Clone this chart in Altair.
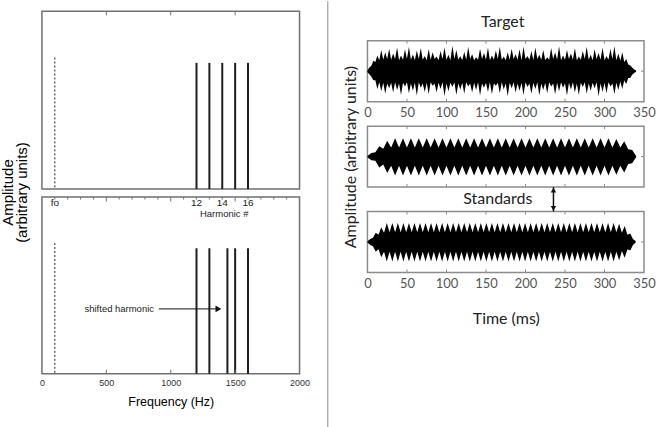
import altair as alt
import pandas as pd

# ---------------- spectra (left column) ----------------
fo_freq = [100]
fo_amp = [0.74]
standard_freqs = [1200, 1300, 1400, 1500, 1600]
standard_amps = [0.71, 0.71, 0.71, 0.71, 0.71]
shifted_freqs = [1200, 1300, 1440, 1500, 1600]
shifted_amps = [0.71, 0.71, 0.71, 0.71, 0.71]
harmonic_label_freqs = [100, 1200, 1400, 1600]
harmonic_labels = ["fo", "12", "14", "16"]
freq_label_values = [0, 500, 1000, 1500, 2000]
freq_major_ticks = [500, 1000, 1500]
freq_minor_ticks = [100, 200, 300, 400, 600, 700, 800, 900, 1100, 1200,
                    1300, 1400, 1600, 1700, 1800, 1900]

# ---------------- waveforms (right column) ----------------
time_label_values = [0, 50, 100, 150, 200, 250, 300, 350]
time_ticks = [50, 100, 150, 200, 250, 300]

target_t = [0, 2.5, 5, 7.5, 10, 12.5, 15, 17.5, 20, 22.5,
            25, 27.5, 30, 32.5, 35, 37.5, 40, 42.5, 45, 47.5,
            50, 52.5, 55, 57.5, 60, 62.5, 65, 67.5, 70, 72.5,
            75, 77.5, 80, 82.5, 85, 87.5, 90, 92.5, 95, 97.5,
            100, 102.5, 105, 107.5, 110, 112.5, 115, 117.5, 120, 122.5,
            125, 127.5, 130, 132.5, 135, 137.5, 140, 142.5, 145, 147.5,
            150, 152.5, 155, 157.5, 160, 162.5, 165, 167.5, 170, 172.5,
            175, 177.5, 180, 182.5, 185, 187.5, 190, 192.5, 195, 197.5,
            200, 202.5, 205, 207.5, 210, 212.5, 215, 217.5, 220, 222.5,
            225, 227.5, 230, 232.5, 235, 237.5, 240, 242.5, 245, 247.5,
            250, 252.5, 255, 257.5, 260, 262.5, 265, 267.5, 270, 272.5,
            275, 277.5, 280, 282.5, 285, 287.5, 290, 292.5, 295, 297.5,
            300, 302.5, 305, 307.5, 310, 312.5, 315, 317.5, 320, 322.5,
            325, 327.5, 330, 332.5, 335, 337.5, 340]
target_hi = [0.03, 0.12, 0.18, 0.34, 0.30, 0.52, 0.36, 0.70, 0.38, 0.62,
             0.40, 0.74, 0.38, 0.58, 0.40, 0.78, 0.36, 0.52, 0.38, 0.72,
             0.40, 0.80, 0.38, 0.55, 0.36, 0.68, 0.40, 0.76, 0.38, 0.50,
             0.36, 0.72, 0.38, 0.62, 0.40, 0.48, 0.36, 0.66, 0.40, 0.78,
             0.38, 0.54, 0.36, 0.84, 0.40, 0.70, 0.38, 0.50, 0.36, 0.64,
             0.38, 0.80, 0.40, 0.56, 0.36, 0.46, 0.38, 0.74, 0.40, 0.60,
             0.38, 0.78, 0.36, 0.52, 0.38, 0.68, 0.40, 0.80, 0.38, 0.48,
             0.36, 0.62, 0.38, 0.74, 0.40, 0.56, 0.38, 0.72, 0.36, 0.80,
             0.40, 0.50, 0.38, 0.66, 0.36, 0.78, 0.40, 0.54, 0.38, 0.70,
             0.36, 0.46, 0.38, 0.76, 0.40, 0.62, 0.38, 0.82, 0.36, 0.52,
             0.38, 0.70, 0.40, 0.58, 0.38, 0.76, 0.36, 0.48, 0.38, 0.66,
             0.40, 0.80, 0.38, 0.54, 0.36, 0.72, 0.40, 0.60, 0.38, 0.78,
             0.36, 0.50, 0.38, 0.74, 0.40, 0.82, 0.36, 0.58, 0.34, 0.62,
             0.30, 0.40, 0.22, 0.20, 0.12, 0.06, 0.02]
target_lo = [-0.03, -0.10, -0.18, -0.30, -0.30, -0.58, -0.36, -0.66, -0.38, -0.74,
             -0.40, -0.56, -0.38, -0.70, -0.36, -0.62, -0.40, -0.78, -0.38, -0.50,
             -0.36, -0.72, -0.40, -0.64, -0.38, -0.80, -0.36, -0.54, -0.40, -0.68,
             -0.38, -0.76, -0.36, -0.48, -0.40, -0.70, -0.38, -0.58, -0.36, -0.82,
             -0.40, -0.66, -0.38, -0.52, -0.36, -0.78, -0.40, -0.60, -0.38, -0.74,
             -0.36, -0.50, -0.40, -0.70, -0.38, -0.62, -0.36, -0.80, -0.40, -0.54,
             -0.38, -0.68, -0.36, -0.76, -0.40, -0.48, -0.38, -0.72, -0.36, -0.60,
             -0.40, -0.82, -0.38, -0.56, -0.36, -0.70, -0.40, -0.64, -0.38, -0.78,
             -0.36, -0.52, -0.40, -0.74, -0.38, -0.58, -0.36, -0.80, -0.40, -0.62,
             -0.38, -0.72, -0.36, -0.50, -0.40, -0.76, -0.38, -0.66, -0.36, -0.54,
             -0.40, -0.80, -0.38, -0.60, -0.36, -0.70, -0.40, -0.78, -0.38, -0.52,
             -0.36, -0.74, -0.40, -0.64, -0.38, -0.56, -0.36, -0.82, -0.40, -0.68,
             -0.38, -0.72, -0.36, -0.50, -0.40, -0.76, -0.38, -0.62, -0.34, -0.58,
             -0.30, -0.42, -0.22, -0.22, -0.12, -0.06, -0.02]

std1_t = [0, 5, 10, 15, 20, 25, 30, 35, 40, 45, 50, 55, 60, 65, 70, 75, 80,
          85, 90, 95, 100, 105, 110, 115, 120, 125, 130, 135, 140, 145, 150,
          155, 160, 165, 170, 175, 180, 185, 190, 195, 200, 205, 210, 215,
          220, 225, 230, 235, 240, 245, 250, 255, 260, 265, 270, 275, 280,
          285, 290, 295, 300, 305, 310, 315, 320, 325, 330, 335, 340]
std1_hi = [0.02, 0.12, 0.14, 0.34, 0.26, 0.52, 0.30,
           0.60, 0.30, 0.60, 0.30, 0.60, 0.30, 0.60, 0.30, 0.60, 0.30,
           0.60, 0.30, 0.60, 0.30, 0.60, 0.30, 0.60, 0.30, 0.60, 0.30,
           0.60, 0.30, 0.60, 0.30, 0.60, 0.30, 0.60, 0.30, 0.60, 0.30,
           0.60, 0.30, 0.60, 0.30, 0.60, 0.30, 0.60, 0.30, 0.60, 0.30,
           0.60, 0.30, 0.60, 0.30, 0.60, 0.30, 0.60, 0.30, 0.60, 0.30,
           0.60, 0.30, 0.60, 0.30, 0.60, 0.30,
           0.58, 0.30, 0.50, 0.24, 0.22, 0.02]
std1_lo = [-0.02, -0.12, -0.14, -0.36, -0.26, -0.54, -0.30,
           -0.62, -0.30, -0.62, -0.30, -0.62, -0.30, -0.62, -0.30, -0.62, -0.30,
           -0.62, -0.30, -0.62, -0.30, -0.62, -0.30, -0.62, -0.30, -0.62, -0.30,
           -0.62, -0.30, -0.62, -0.30, -0.62, -0.30, -0.62, -0.30, -0.62, -0.30,
           -0.62, -0.30, -0.62, -0.30, -0.62, -0.30, -0.62, -0.30, -0.62, -0.30,
           -0.62, -0.30, -0.62, -0.30, -0.62, -0.30, -0.62, -0.30, -0.62, -0.30,
           -0.62, -0.30, -0.62, -0.30, -0.62, -0.30,
           -0.60, -0.30, -0.52, -0.24, -0.22, -0.02]

std2_t = [0, 3.5, 7, 10.5, 14, 17.5, 21, 24.5, 28, 31.5,
          35, 38.5, 42, 45.5, 49, 52.5, 56, 59.5, 63, 66.5,
          70, 73.5, 77, 80.5, 84, 87.5, 91, 94.5, 98, 101.5,
          105, 108.5, 112, 115.5, 119, 122.5, 126, 129.5, 133, 136.5,
          140, 143.5, 147, 150.5, 154, 157.5, 161, 164.5, 168, 171.5,
          175, 178.5, 182, 185.5, 189, 192.5, 196, 199.5, 203, 206.5,
          210, 213.5, 217, 220.5, 224, 227.5, 231, 234.5, 238, 241.5,
          245, 248.5, 252, 255.5, 259, 262.5, 266, 269.5, 273, 276.5,
          280, 283.5, 287, 290.5, 294, 297.5, 301, 304.5, 308, 311.5,
          315, 318.5, 322, 325.5, 329, 332.5, 336, 339.5]
std2_hi = [0.02, 0.10, 0.14, 0.30, 0.24, 0.48, 0.30,
           0.62, 0.32, 0.62, 0.32, 0.62, 0.32, 0.62, 0.32, 0.62, 0.32,
           0.62, 0.32, 0.62, 0.32, 0.62, 0.32, 0.62, 0.32, 0.62, 0.32,
           0.62, 0.32, 0.62, 0.32, 0.62, 0.32, 0.62, 0.32, 0.62, 0.32,
           0.62, 0.32, 0.62, 0.32, 0.62, 0.32, 0.62, 0.32, 0.62, 0.32,
           0.62, 0.32, 0.62, 0.32, 0.62, 0.32, 0.62, 0.32, 0.62, 0.32,
           0.62, 0.32, 0.62, 0.32, 0.62, 0.32, 0.62, 0.32, 0.62, 0.32,
           0.62, 0.32, 0.62, 0.32, 0.62, 0.32, 0.62, 0.32, 0.62, 0.32,
           0.62, 0.32, 0.62, 0.32, 0.62, 0.32, 0.62, 0.32, 0.62, 0.32,
           0.62, 0.32, 0.62,
           0.32, 0.60, 0.30, 0.52, 0.24, 0.28, 0.10, 0.02]
std2_lo = [-0.02, -0.10, -0.14, -0.32, -0.24, -0.50, -0.32,
           -0.64, -0.32, -0.64, -0.32, -0.64, -0.32, -0.64, -0.32, -0.64, -0.32,
           -0.64, -0.32, -0.64, -0.32, -0.64, -0.32, -0.64, -0.32, -0.64, -0.32,
           -0.64, -0.32, -0.64, -0.32, -0.64, -0.32, -0.64, -0.32, -0.64, -0.32,
           -0.64, -0.32, -0.64, -0.32, -0.64, -0.32, -0.64, -0.32, -0.64, -0.32,
           -0.64, -0.32, -0.64, -0.32, -0.64, -0.32, -0.64, -0.32, -0.64, -0.32,
           -0.64, -0.32, -0.64, -0.32, -0.64, -0.32, -0.64, -0.32, -0.64, -0.32,
           -0.64, -0.32, -0.64, -0.32, -0.64, -0.32, -0.64, -0.32, -0.64, -0.32,
           -0.64, -0.32, -0.64, -0.32, -0.64, -0.32, -0.64, -0.32, -0.64, -0.32,
           -0.64, -0.32, -0.64,
           -0.32, -0.60, -0.30, -0.52, -0.24, -0.28, -0.10, -0.02]

# annotation anchors (data coordinates of the panel they sit in)
shift_text_f, shift_start_f, shift_head_f, shift_amp = 870, 908, 1370, 0.367
harm_label_amp, harm_title_amp, harm_title_f = 0.966, 0.904, 1415
standards_t, standards_amp = 165, 1.41
swap_t, swap_lo, swap_hi = 235.4, 1.0, 1.80

# ---------------- styling ----------------
LEFT_FONT = "Liberation Sans"
RIGHT_FONT = "Lato"
W_L, H_L1, H_L2 = 258, 178, 177
W_R, H_R = 277, 61
FRAME_L = "#707070"
FRAME_R = "#8c8c8c"

f_scale = alt.Scale(domain=[0, 2000], nice=False, zero=False)
amp_scale = alt.Scale(domain=[0, 1], nice=False, zero=False)
t_scale = alt.Scale(domain=[0, 350], nice=False, zero=False)
wave_scale = alt.Scale(domain=[-1, 1], nice=False, zero=False)

# an axis that draws nothing; every layer of a panel shares the same axis spec
HIDDEN = dict(labels=False, ticks=False, domain=False, grid=False, title=None)

one_row = pd.DataFrame({"k": [0]})


def edge_ticks(values, length, top, height, color, x_axis):
    df = pd.DataFrame({"v": values})
    y0, y1 = (0, length) if top else (height, height - length)
    return alt.Chart(df).mark_rule(color=color, strokeWidth=1).encode(
        x=alt.X("v:Q", axis=x_axis), y=alt.value(y0), y2=alt.value(y1)
    )


def spectrum_panel(freqs, amps, height, x_axis, y_axis, extras):
    fo_df = pd.DataFrame({"f": fo_freq, "a": fo_amp, "b": [0] * len(fo_freq)})
    h_df = pd.DataFrame({"f": freqs, "a": amps, "b": [0] * len(freqs)})
    fo = alt.Chart(fo_df).mark_rule(color="#222", strokeWidth=1, strokeDash=[2, 2]).encode(
        x=alt.X("f:Q", scale=f_scale, axis=x_axis),
        y=alt.Y("a:Q", scale=amp_scale, axis=y_axis),
        y2="b:Q",
    )
    harm = alt.Chart(h_df).mark_rule(color="#1e1e1e", strokeWidth=2).encode(
        x=alt.X("f:Q", axis=x_axis), y=alt.Y("a:Q", axis=y_axis), y2="b:Q"
    )
    return alt.layer(fo, harm, *extras).properties(
        width=W_L, height=height,
        view=alt.ViewBackground(stroke=FRAME_L, strokeWidth=1.5),
    )


def text_layer(df, x_axis, y_axis, **mark_kw):
    return alt.Chart(df).mark_text(**mark_kw).encode(
        x=alt.X("f:Q", axis=x_axis), y=alt.Y("a:Q", axis=y_axis), text="txt:N"
    )


# top spectrum: harmonic complex 12-16
top_x = alt.Axis(**HIDDEN)
top_y = alt.Axis(
    title=["Amplitude", "(arbitrary units)"], labels=False, ticks=False, domain=False,
    grid=False, titleFont=LEFT_FONT, titleFontSize=15, titleFontWeight="normal",
    titleColor="black", titlePadding=12, titleY=181, titleLineHeight=14,
)
top_spec = spectrum_panel(
    standard_freqs, standard_amps, H_L1, top_x, top_y,
    [edge_ticks(freq_major_ticks, 4, True, H_L1, FRAME_L, top_x)],
)

# bottom spectrum: 14th harmonic shifted up
bot_x = alt.Axis(
    values=freq_label_values, format="d", ticks=False, domain=False, grid=False,
    labelFlush=False, labelFont=LEFT_FONT, labelFontSize=9, labelColor="#333",
    labelPadding=5, title="Frequency (Hz)", titleFont=LEFT_FONT, titleFontSize=12.5,
    titleFontWeight="normal", titleColor="black", titlePadding=8,
)
bot_y = alt.Axis(**HIDDEN)
lab_df = pd.DataFrame({"f": harmonic_label_freqs, "txt": harmonic_labels,
                       "a": [harm_label_amp] * len(harmonic_labels)})
harm_text = text_layer(lab_df, bot_x, bot_y, font=LEFT_FONT, fontSize=10,
                       color="#222", baseline="middle")
harm_title = text_layer(
    pd.DataFrame({"f": [harm_title_f], "a": [harm_title_amp], "txt": ["Harmonic #"]}),
    bot_x, bot_y, font=LEFT_FONT, fontSize=9.5, color="#222", baseline="middle")
shift_text = text_layer(
    pd.DataFrame({"f": [shift_text_f], "a": [shift_amp], "txt": ["shifted harmonic"]}),
    bot_x, bot_y, font=LEFT_FONT, fontSize=9.5, color="#222", align="right",
    baseline="middle")
shift_line = alt.Chart(pd.DataFrame({"f": [shift_start_f], "f2": [shift_head_f],
                                     "a": [shift_amp]})).mark_rule(
    color="#111", strokeWidth=1).encode(
    x=alt.X("f:Q", axis=bot_x), x2="f2:Q", y=alt.Y("a:Q", axis=bot_y)
)
shift_head = alt.Chart(pd.DataFrame({"f": [shift_head_f], "a": [shift_amp]})).mark_point(
    shape="triangle-right", size=45, filled=True, color="#111", opacity=1).encode(
    x=alt.X("f:Q", axis=bot_x), y=alt.Y("a:Q", axis=bot_y)
)
bottom_spec = spectrum_panel(
    shifted_freqs, shifted_amps, H_L2, bot_x, bot_y,
    [edge_ticks(freq_minor_ticks, 2.5, True, H_L2, FRAME_L, bot_x),
     edge_ticks(freq_major_ticks, 4.5, True, H_L2, FRAME_L, bot_x),
     edge_ticks(freq_major_ticks, 4, False, H_L2, FRAME_L, bot_x),
     harm_text, harm_title, shift_text, shift_line, shift_head],
)

left_col = alt.vconcat(top_spec, bottom_spec, spacing=8, bounds="flush")


# ---------------- waveform panels ----------------
def waveform_panel(t, hi, lo, x_axis, y_axis, title=None, extras=()):
    df = pd.DataFrame({"t": t, "hi": hi, "lo": lo})
    wave = alt.Chart(df).mark_area(color="black", interpolate="linear").encode(
        x=alt.X("t:Q", scale=t_scale, axis=x_axis),
        y=alt.Y("hi:Q", scale=wave_scale, axis=y_axis),
        y2="lo:Q",
    )
    side = alt.Chart(pd.DataFrame({"a": [0]})).mark_rule(color=FRAME_R).encode(
        x=alt.value(W_R - 3), x2=alt.value(W_R), y=alt.Y("a:Q", axis=y_axis)
    )
    layers = [wave,
              edge_ticks(time_ticks, 3, True, H_R, FRAME_R, x_axis),
              edge_ticks(time_ticks, 3, False, H_R, FRAME_R, x_axis),
              side, *extras]
    ch = alt.layer(*layers).properties(
        width=W_R, height=H_R,
        view=alt.ViewBackground(stroke=FRAME_R, strokeWidth=1.5),
    )
    if title is not None:
        ch = ch.properties(title=title)
    return ch


def time_axis(with_title):
    kw = dict(values=time_label_values, ticks=False, domain=False, grid=False,
              labelFlush=False, labelFont=RIGHT_FONT, labelFontSize=13,
              labelColor="#555", labelPadding=5)
    if with_title:
        kw.update(title="Time (ms)", titleFont=RIGHT_FONT, titleFontSize=16,
                  titleFontWeight="normal", titleColor="#222", titlePadding=20)
    else:
        kw.update(title=None)
    return alt.Axis(**kw)


# thin strip above the waveforms that carries the vertical separator line
divider_strip = alt.Chart(one_row).mark_rule(color="#8a8a8a", strokeWidth=1).encode(
    x=alt.value(-39.7), y=alt.value(-10.2), y2=alt.value(420)
).properties(width=W_R, height=4.1,
             view=alt.ViewBackground(stroke="transparent", strokeWidth=0))

hid_y = alt.Axis(**HIDDEN)
hid_x = alt.Axis(**HIDDEN)

p_target = waveform_panel(
    target_t, target_hi, target_lo, time_axis(False), hid_y,
    title=alt.TitleParams("Target", font=RIGHT_FONT, fontSize=16, fontWeight="normal",
                          color="#222", offset=10, anchor="middle", frame="group", dx=-3),
)

amp_axis = alt.Axis(
    title="Amplitude (arbitrary units)", labels=False, ticks=False, domain=False, grid=False,
    titleFont=RIGHT_FONT, titleFontSize=16, titleFontWeight="normal", titleColor="#222",
    titlePadding=9,
)
p_std1 = waveform_panel(std1_t, std1_hi, std1_lo, hid_x, amp_axis)

x3 = time_axis(True)
standards_text = alt.Chart(pd.DataFrame({"t": [standards_t], "a": [standards_amp],
                                         "txt": ["Standards"]})).mark_text(
    font=RIGHT_FONT, fontSize=16, color="#222", baseline="middle").encode(
    x=alt.X("t:Q", axis=x3), y=alt.Y("a:Q", axis=hid_y), text="txt:N"
)
swap_line = alt.Chart(pd.DataFrame({"t": [swap_t], "a": [swap_lo], "a2": [swap_hi]})).mark_rule(
    color="#111", strokeWidth=1.5).encode(
    x=alt.X("t:Q", axis=x3), y=alt.Y("a:Q", axis=hid_y), y2="a2:Q"
)
swap_heads = alt.Chart(pd.DataFrame({
    "t": [swap_t, swap_t],
    "a": [swap_hi - 0.1, swap_lo + 0.1],
    "shape": ["triangle-up", "triangle-down"],
})).mark_point(size=30, filled=True, color="#111", opacity=1).encode(
    x=alt.X("t:Q", axis=x3), y=alt.Y("a:Q", axis=hid_y),
    shape=alt.Shape("shape:N", scale=None, legend=None),
)
p_std2 = waveform_panel(std2_t, std2_hi, std2_lo, x3, hid_y,
                        extras=[standards_text, swap_line, swap_heads])

right_col = alt.vconcat(divider_strip, p_target, p_std1, p_std2, spacing=24.5,
                        bounds="flush")

chart = alt.hconcat(left_col, right_col, spacing=16).properties(
    padding={"left": 0, "top": 0, "right": 0, "bottom": 0},
    background="white",
)

chart.save("out.html", embed_options={"renderer": "svg", "actions": False})
